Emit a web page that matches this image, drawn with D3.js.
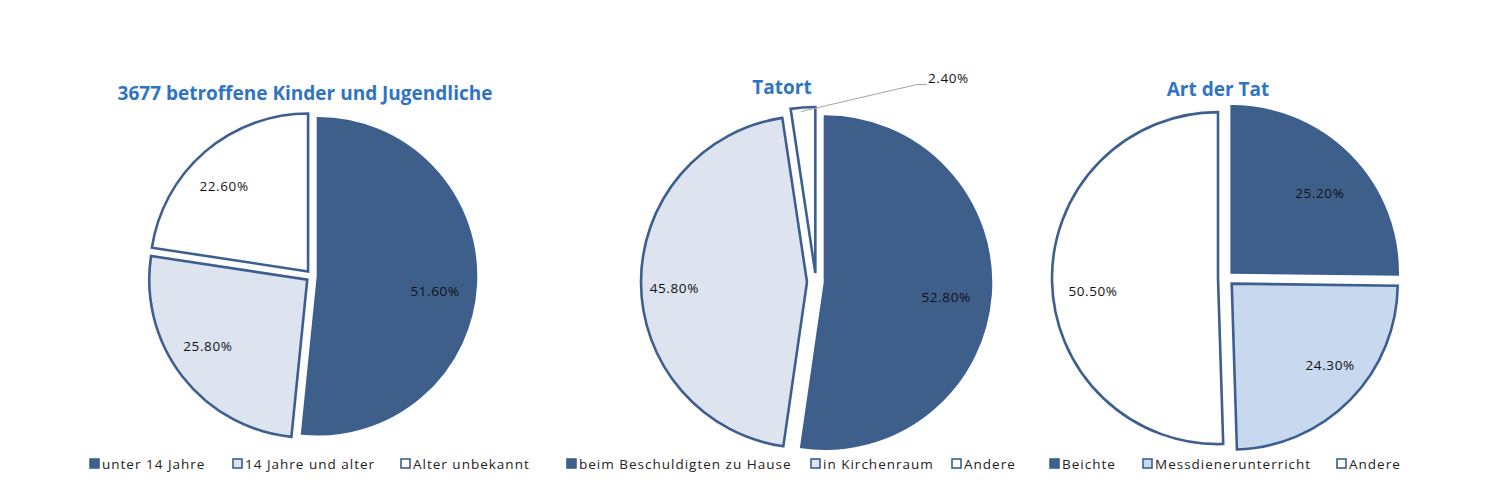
<!DOCTYPE html>
<html><head><meta charset="utf-8">
<script src="https://cdn.jsdelivr.net/npm/d3@7"></script>
<style>
html,body{margin:0;padding:0;background:#fff;}
svg{display:block;}
text{font-family:"Open Sans","Noto Sans",sans-serif;}
</style></head>
<body>
<svg id="c" width="1510" height="504"></svg>
<script>
// ---- data ----
const titles = ["3677 betroffene Kinder und Jugendliche", "Tatort", "Art der Tat"];
const cats1 = ["unter 14 Jahre", "14 Jahre und alter", "Alter unbekannt"];
const vals1 = [51.6, 25.8, 22.6];
const cats2 = ["beim Beschuldigten zu Hause", "in Kirchenraum", "Andere"];
const vals2 = [52.8, 45.8, 2.4];
const cats3 = ["Beichte", "Messdienerunterricht", "Andere"];
const vals3 = [25.2, 24.3, 50.5];
const labels1 = ["51.60%", "25.80%", "22.60%"];
const labels2 = ["52.80%", "45.80%", "2.40%"];
const labels3 = ["25.20%", "24.30%", "50.50%"];

// ---- layout / style ----
const dark = "#3f5f8b", stroke = "#3d5f8f", light = "#dde4ef", light3 = "#c8d8ee";
const deg = Math.PI / 180;
const charts = [
  {cats: cats1, vals: vals1, labels: labels1, cx: 312, cy: 276, r: 158, ex: 6,
   fills: [dark, light, "#fff"], title: {x: 305, y: 100},
   labelR: [0.747, 0.756, 0.759], labelA: [4.4, 4.1, -3.8],
   legendX: [89, 232, 400]},
  {cats: cats2, vals: vals2, labels: labels2, cx: 816, cy: 282, r: 166, ex: 9,
   fills: [dark, light, "#fff"], title: {x: 782, y: 94},
   labelR: [0.735, 0.80, null], labelA: [2.6, -2.3, 0],
   legendX: [566, 810, 951]},
  {cats: cats3, vals: vals3, labels: labels3, cx: 1226, cy: 278, r: 166, ex: 8,
   fills: [dark, light3, "#fff"], title: {x: 1218, y: 96},
   labelR: [0.715, 0.769, 0.757], labelA: [2.6, -4.9, -5],
   legendX: [1049, 1142, 1336]}
];

const svg = d3.select("#c");
const pie = d3.pie().sort(null).value(d => d);

charts.forEach((c, ci) => {
  const g = svg.append("g");
  const arcs = pie(c.vals);
  const arc = d3.arc().innerRadius(0).outerRadius(c.r);
  arcs.forEach((a, i) => {
    const mid = (a.startAngle + a.endAngle) / 2;
    const ox = c.cx + c.ex * Math.sin(mid), oy = c.cy - c.ex * Math.cos(mid);
    g.append("path")
      .attr("d", arc(a))
      .attr("transform", `translate(${ox},${oy})`)
      .attr("fill", c.fills[i])
      .attr("stroke", stroke)
      .attr("stroke-width", 2.6)
      .attr("stroke-linejoin", "miter");
    if (c.labelR[i] != null) {
      const lr = c.r * c.labelR[i];
      const la = mid + c.labelA[i] * deg;
      g.append("text")
        .attr("x", ox + lr * Math.sin(la))
        .attr("y", oy - lr * Math.cos(la))
        .attr("text-anchor", "middle")
        .attr("dominant-baseline", "central")
        .attr("font-size", 13.5).attr("letter-spacing", 0.6)
        .attr("fill", "#111")
        .text(c.labels[i]);
    } else {
      // outside label with leader line
      const px = ox + c.r * Math.sin(mid), py = oy - c.r * Math.cos(mid);
      g.append("polyline")
        .attr("points", `${px - 2},${py + 4} ${px + 114},${py - 23} ${px + 124},${py - 23}`)
        .attr("fill", "none").attr("stroke", "#a6a6a6").attr("stroke-width", 1.2);
      g.append("text")
        .attr("x", px + 125).attr("y", py - 29)
        .attr("dominant-baseline", "central")
        .attr("font-size", 13.5).attr("letter-spacing", 0.6).attr("fill", "#111")
        .text(c.labels[i]);
    }
  });
  // title
  g.append("text")
    .attr("x", c.title.x).attr("y", c.title.y)
    .attr("text-anchor", "middle")
    .attr("font-size", 19).attr("font-weight", "bold")
    .attr("fill", "#2f74c2")
    .text(titles[ci]);
  // legend
  c.cats.forEach((name, i) => {
    const lx = c.legendX[i];
    g.append("rect")
      .attr("x", lx + 1).attr("y", 459).attr("width", 9).attr("height", 9)
      .attr("fill", c.fills[i]).attr("stroke", stroke).attr("stroke-width", 1.6);
    g.append("text")
      .attr("x", lx + 13).attr("y", 464)
      .attr("dominant-baseline", "central")
      .attr("font-size", 13.5).attr("letter-spacing", 1)
      .attr("fill", "#222")
      .text(name);
  });
});
</script>
</body></html>
